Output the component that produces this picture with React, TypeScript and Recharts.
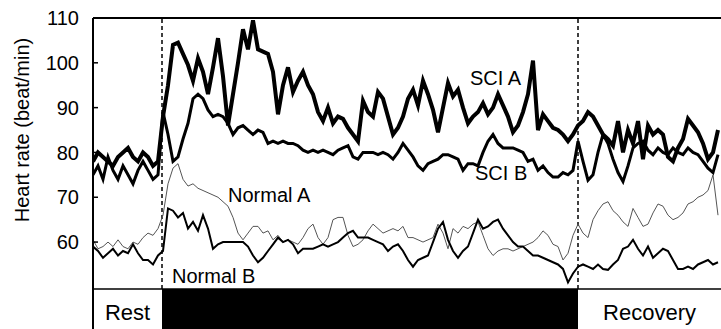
import { LineChart, Line, XAxis, YAxis, ReferenceLine, ReferenceArea } from "recharts"

// sample index: one reading every step along the time axis
const sciA = [
  78, 80, 79, 78, 77, 79, 80, 81, 79, 78, 80, 79, 77, 78,
  88, 95, 104, 104.5, 102, 99.5, 96, 101, 98, 93, 99, 105.5, 97, 86, 93, 100,
  107.5, 103, 109.5, 103, 102.5, 102, 98, 88.5, 95, 99, 93.5, 96, 98, 95, 93, 89,
  87, 90, 86.5, 88, 87.5, 85.5, 84, 82.5, 91.5, 89, 88, 93.5, 92, 88, 84, 85.5,
  88, 92, 94, 90.5, 96, 93, 89.5, 84.5, 90, 95.5, 92.5, 94, 90, 86.5, 88, 89,
  91, 88.5, 90, 93, 90.5, 88, 84.5, 86, 89, 93, 100.5, 85, 88.5, 87, 85.5, 85,
  84, 82.5, 84, 86,
  87, 89, 88, 86, 84, 83, 81.5, 87, 80, 85, 82, 87, 78.5, 86, 84, 85, 84, 79,
  78, 81, 83, 87.5, 86, 84.5, 82, 78.5, 80, 85,
]
const sciB = [
  75, 77, 74, 79, 76, 74, 77, 75, 73, 76, 78, 76, 74, 75,
  89, 84, 78, 79, 83, 86.5, 92, 93, 92, 89.5, 88, 88.5, 88, 86.5, 84, 85.5,
  86, 85, 84, 85, 84.5, 82, 82.5, 82, 82.5, 82, 82, 81.5, 80.5, 80, 80.5, 80,
  80.5, 80, 79.5, 80.5, 81, 81.5, 79, 78.5, 80, 80, 80, 79.5, 80, 79.5, 78.5, 80,
  82, 80.5, 79, 77, 76, 77.5, 78, 78.5, 79.5, 79.5, 79, 78.5, 76, 77.5, 77.5, 77,
  80, 82.5, 84, 82, 81, 81, 81, 80.5, 80, 78, 78.5, 76, 77, 75.5, 74.5, 74.5,
  75.5, 75, 76, 82.5,
  78, 73.8, 75, 80, 84, 82, 78.5, 75.5, 73.5, 77, 81, 82, 82.5, 80.5, 79.5, 81,
  80, 79.5, 81, 80, 79.5, 81, 80, 79.5, 78, 76.5, 75.5, 79.5,
]
const normalA = [
  60.5, 58.5, 59, 60, 59, 60.5, 59, 58.5, 60, 59.5, 61, 62, 61.5, 63,
  66, 73, 76.5, 77.5, 74, 72.5, 73, 72, 71.5, 71, 70.5, 70, 69, 68, 65.5, 62,
  60.5, 62, 63.5, 63.5, 62, 62.5, 60.5, 61.5, 60, 60.5, 60, 59.5, 61, 63, 64, 61,
  59.5, 61, 65, 65.5, 65.5, 61.5, 59, 59.5, 60.5, 62.5, 64, 63, 62, 62.5, 63, 62.5,
  63.5, 61, 61, 60.5, 60, 60.5, 61, 64, 62, 58.5, 63, 62, 63.5, 63, 64, 64.5,
  61.5, 58.5, 57, 58, 58.5, 58.5, 58, 58.5, 59, 59.5, 60, 61, 62.5, 61.5, 59.5, 59,
  56, 57.5, 61.5, 64,
  62, 61, 65, 67, 68.5, 69, 67, 66, 64.5, 63.5, 67.5, 65.5, 63.5, 64, 66.5, 68.5,
  68, 66, 65, 65.5, 66.5, 68.5, 69, 70, 70.5, 71.5, 75, 66,
]
const normalB = [
  59, 58, 56.5, 57.5, 58.5, 57, 58, 57.5, 59.5, 57.5, 56, 56, 55, 57,
  58, 67.5, 67, 65.5, 66.5, 63, 64.5, 62.5, 66, 63, 58.5, 59.5, 60, 60, 60, 60,
  60, 59, 57, 55.5, 56.5, 58, 59.5, 61, 60, 60.5, 59.5, 57.5, 58.5, 58.5, 58.5, 59,
  59.5, 59, 59.5, 60, 61, 62, 62.5, 61, 61, 61, 60.5, 60, 59.5, 58, 59, 59.5,
  58, 56, 54.5, 56, 56.5, 57, 60, 63, 64.5, 60.5, 58, 56.5, 58, 59, 62, 65,
  63, 63.5, 64.5, 65, 63, 61.5, 60, 59, 59, 58, 57, 57, 56.5, 56, 55.5, 55,
  54, 51, 53, 54.5,
  55, 54.5, 54, 55, 54, 53.8, 55, 56, 58.5, 59, 60.5, 58.5, 57, 59, 56.5, 57.5,
  58.5, 58, 56, 54, 54, 54.5, 54, 55, 55.5, 56, 55, 55.5,
]

const yTicks = [60, 70, 80, 90, 100, 110]
const restEnd = 13.8
const exerciseEnd = 97
const timeMax = 125.6
const bandTop = 49.5
const yMin = 40.6

const data = sciA.map((v, i) => ({
  t: i,
  sciA: v,
  sciB: sciB[i],
  normalA: normalA[i],
  normalB: normalB[i],
}))

const FONT = "'Liberation Sans', Arial, sans-serif"

const HrTick = (props: any) => {
  const { x, y, payload } = props
  return (
    <g>
      {payload.value !== 110 && <line x1={x} x2={x + 5} y1={y} y2={y} stroke="#000" strokeWidth={1.5} />}
      <text x={x - 14} y={y} dy="0.36em" textAnchor="end" fontSize={20} fontFamily={FONT} fill="#000">
        {payload.value}
      </text>
    </g>
  )
}

export default function App() {
  return (
    <div style={{ position: "absolute", left: 0, top: 0, width: 721, height: 329, overflow: "hidden", background: "#fff" }}>
      <LineChart width={721} height={329} data={data} margin={{ top: 18, right: 0, bottom: 0, left: 0 }}>
        <XAxis dataKey="t" type="number" domain={[0, timeMax]} hide allowDataOverflow />
        <YAxis
          type="number"
          domain={[yMin, 110]}
          ticks={yTicks}
          width={93}
          allowDataOverflow
          tickSize={0}
          tickMargin={0}
          tick={<HrTick />}
          axisLine={{ stroke: "#000", strokeWidth: 2 }}
          tickLine={false}
        />
        <ReferenceArea x1={restEnd} x2={exerciseEnd} y1={yMin} y2={bandTop} fill="#000" fillOpacity={1} stroke="none" />
        <ReferenceArea
          x1={0}
          x2={restEnd}
          y1={yMin}
          y2={bandTop}
          fill="#fff"
          fillOpacity={0}
          stroke="none"
          label={{ value: "Rest", position: "center", fontSize: 22, fill: "#000", fontFamily: FONT, dy: 3 }}
        />
        <ReferenceArea
          x1={exerciseEnd}
          x2={timeMax}
          y1={yMin}
          y2={bandTop}
          fill="#fff"
          fillOpacity={0}
          stroke="none"
          label={{ value: "Recovery", position: "center", fontSize: 22, fill: "#000", fontFamily: FONT, dy: 3 }}
        />
        <ReferenceLine y={bandTop} stroke="#000" strokeWidth={1.5} />
        <ReferenceLine y={110} stroke="#000" strokeWidth={2} />
        <ReferenceLine
          segment={[{ x: restEnd, y: bandTop }, { x: restEnd, y: 110 }]}
          stroke="#000"
          strokeWidth={1.5}
          strokeDasharray="4 3"
        />
        <ReferenceLine
          segment={[{ x: exerciseEnd, y: bandTop }, { x: exerciseEnd, y: 110 }]}
          stroke="#000"
          strokeWidth={1.5}
          strokeDasharray="4 3"
        />
        <Line type="linear" dataKey="normalA" stroke="#555" strokeWidth={1} dot={false} isAnimationActive={false} />
        <Line type="linear" dataKey="normalB" stroke="#000" strokeWidth={2} dot={false} isAnimationActive={false} />
        <Line type="linear" dataKey="sciB" stroke="#000" strokeWidth={3} dot={false} isAnimationActive={false} />
        <Line type="linear" dataKey="sciA" stroke="#000" strokeWidth={4} dot={false} isAnimationActive={false} />
      </LineChart>
      <svg width={721} height={329} style={{ position: "absolute", left: 0, top: 0, pointerEvents: "none" }}>
        <g fontFamily={FONT} fontSize={20} fill="#000">
          <text x={22} y={130} transform="rotate(-90 22 130)" textAnchor="middle" dominantBaseline="central">
            Heart rate (beat/min)
          </text>
          <text x={470} y={85}>SCI A</text>
          <text x={475} y={180}>SCI B</text>
          <text x={228} y={202}>Normal A</text>
          <text x={172} y={283}>Normal B</text>
        </g>
      </svg>
    </div>
  )
}
